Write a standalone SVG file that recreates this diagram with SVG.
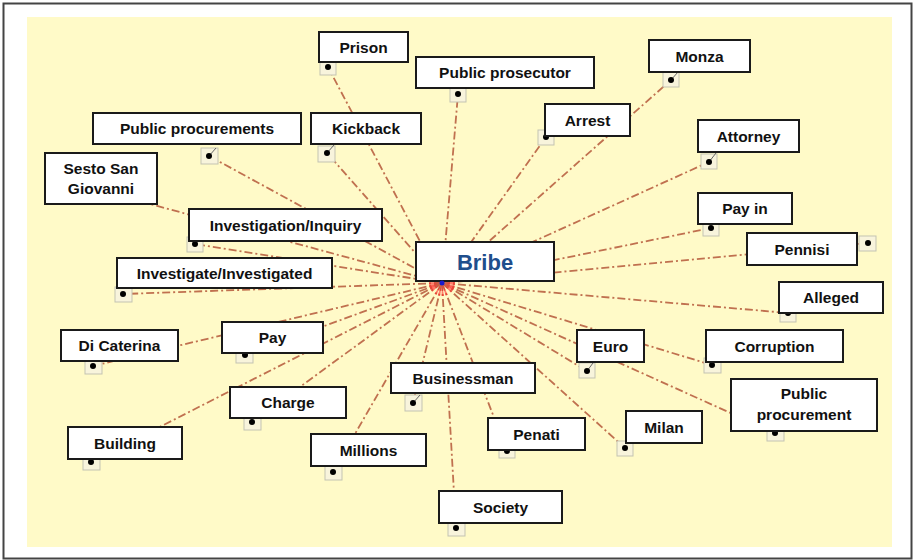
<svg xmlns="http://www.w3.org/2000/svg" width="915" height="560" viewBox="0 0 915 560">
<defs>
<style>
.box{fill:#fff;stroke:#1a1a1a;stroke-width:2}
.lbl{font-family:"Liberation Sans",Arial,sans-serif;font-weight:bold;font-size:15.5px;fill:#111;text-anchor:middle}
.hub{font-family:"Liberation Sans",Arial,sans-serif;font-weight:bold;font-size:22px;fill:#1f4e8c;text-anchor:middle}
.h{fill:#f8f4dc;stroke:#c4c3b2;stroke-width:1}
.d{fill:#000}
.t{stroke:#666;stroke-width:1}
.c{stroke:#c0704f;stroke-width:1.8;stroke-dasharray:8 3 2 3;fill:none;marker-start:url(#burst)}
</style>
<marker id="burst" markerUnits="userSpaceOnUse" markerWidth="16" markerHeight="8" refX="0" refY="4" orient="auto" viewBox="0 0 16 8">
<path d="M0,4 L13,2.8 L13,5.2 Z" fill="#ff2a2a" opacity="0.6"/>
</marker>
</defs>
<rect x="3.5" y="3.5" width="908" height="555" fill="#fff" stroke="#444" stroke-width="2"/>
<rect x="27" y="17" width="865" height="530" fill="#fffac8"/>
<g id="connectors">
<line class="c" x1="442" y1="283" x2="328" y2="67"/>
<line class="c" x1="442" y1="283" x2="458" y2="94"/>
<line class="c" x1="442" y1="283" x2="671" y2="80"/>
<line class="c" x1="442" y1="283" x2="546" y2="137"/>
<line class="c" x1="442" y1="283" x2="709" y2="162"/>
<line class="c" x1="442" y1="283" x2="711" y2="228"/>
<line class="c" x1="442" y1="283" x2="868" y2="243"/>
<line class="c" x1="442" y1="283" x2="788" y2="313"/>
<line class="c" x1="442" y1="283" x2="587" y2="371"/>
<line class="c" x1="442" y1="283" x2="712" y2="365"/>
<line class="c" x1="442" y1="283" x2="775" y2="433"/>
<line class="c" x1="442" y1="283" x2="625" y2="448"/>
<line class="c" x1="442" y1="283" x2="507" y2="451"/>
<line class="c" x1="442" y1="283" x2="456" y2="528"/>
<line class="c" x1="442" y1="283" x2="413" y2="403"/>
<line class="c" x1="442" y1="283" x2="333" y2="472"/>
<line class="c" x1="442" y1="283" x2="252" y2="422"/>
<line class="c" x1="442" y1="283" x2="91" y2="462"/>
<line class="c" x1="442" y1="283" x2="245" y2="355"/>
<line class="c" x1="442" y1="283" x2="93" y2="366"/>
<line class="c" x1="442" y1="283" x2="123" y2="294"/>
<line class="c" x1="442" y1="283" x2="195" y2="244"/>
<line class="c" x1="442" y1="283" x2="150" y2="204"/>
<line class="c" x1="442" y1="283" x2="209" y2="156"/>
<line class="c" x1="442" y1="283" x2="327" y2="153"/>
</g>
<g id="prison"><rect class="h" x="320" y="60" width="16" height="15"/><circle class="d" cx="328" cy="67" r="3"/><rect class="box" x="319" y="32" width="89" height="30"/><text class="lbl" x="363.5" y="52.5">Prison</text></g>
<g id="public-prosecutor"><rect class="h" x="450" y="87" width="16" height="15"/><circle class="d" cx="458" cy="94" r="3"/><rect class="box" x="416" y="57" width="178" height="31"/><text class="lbl" x="505" y="78">Public prosecutor</text></g>
<g id="monza"><rect class="h" x="663" y="72" width="16" height="15"/><line class="t" x1="671" y1="80" x2="678" y2="72"/><circle class="d" cx="671" cy="80" r="3"/><rect class="box" x="649" y="40" width="101" height="32"/><text class="lbl" x="699.5" y="61.5">Monza</text></g>
<g id="arrest"><rect class="h" x="538" y="130" width="16" height="15"/><circle class="d" cx="546" cy="137" r="3"/><rect class="box" x="545" y="104" width="85" height="32"/><text class="lbl" x="587.5" y="125.5">Arrest</text></g>
<g id="attorney"><rect class="h" x="701" y="154" width="16" height="15"/><line class="t" x1="709" y1="162" x2="716" y2="153"/><circle class="d" cx="709" cy="162" r="3"/><rect class="box" x="698" y="120" width="101" height="32"/><text class="lbl" x="748.5" y="141.5">Attorney</text></g>
<g id="pay-in"><rect class="h" x="703" y="221" width="16" height="15"/><circle class="d" cx="711" cy="228" r="3"/><rect class="box" x="698" y="193" width="94" height="31"/><text class="lbl" x="745" y="214">Pay in</text></g>
<g id="pennisi"><rect class="h" x="859" y="236" width="17" height="15"/><circle class="d" cx="868" cy="243" r="3"/><rect class="box" x="747" y="233" width="110" height="32"/><text class="lbl" x="802" y="254.5">Pennisi</text></g>
<g id="alleged"><rect class="h" x="780" y="308" width="16" height="14"/><circle class="d" cx="788" cy="313" r="3"/><rect class="box" x="779" y="282" width="104" height="31"/><text class="lbl" x="831" y="303">Alleged</text></g>
<g id="euro"><rect class="h" x="579" y="363" width="16" height="15"/><line class="t" x1="587" y1="371" x2="593" y2="363"/><circle class="d" cx="587" cy="371" r="3"/><rect class="box" x="577" y="330" width="67" height="32"/><text class="lbl" x="610.5" y="351.5">Euro</text></g>
<g id="corruption"><rect class="h" x="704" y="358" width="17" height="15"/><circle class="d" cx="712" cy="365" r="3"/><rect class="box" x="706" y="330" width="137" height="32"/><text class="lbl" x="774.5" y="351.5">Corruption</text></g>
<g id="public-procurement"><rect class="h" x="767" y="426" width="17" height="15"/><circle class="d" cx="775" cy="433" r="3"/><rect class="box" x="731" y="379" width="146" height="52"/><text class="lbl" x="804" y="399">Public</text><text class="lbl" x="804" y="420">procurement</text></g>
<g id="milan"><rect class="h" x="617" y="441" width="16" height="15"/><circle class="d" cx="625" cy="448" r="3"/><rect class="box" x="626" y="411" width="76" height="32"/><text class="lbl" x="664" y="432.5">Milan</text></g>
<g id="penati"><rect class="h" x="499" y="444" width="16" height="14"/><circle class="d" cx="507" cy="451" r="3"/><rect class="box" x="488" y="418" width="97" height="32"/><text class="lbl" x="536.5" y="439.5">Penati</text></g>
<g id="society"><rect class="h" x="448" y="521" width="17" height="15"/><circle class="d" cx="456" cy="528" r="3"/><rect class="box" x="439" y="491" width="123" height="32"/><text class="lbl" x="500.5" y="512.5">Society</text></g>
<g id="businessman"><rect class="h" x="405" y="395" width="17" height="16"/><line class="t" x1="413" y1="403" x2="420" y2="395"/><circle class="d" cx="413" cy="403" r="3"/><rect class="box" x="391" y="363" width="144" height="30"/><text class="lbl" x="463" y="383.5">Businessman</text></g>
<g id="millions"><rect class="h" x="325" y="465" width="17" height="15"/><circle class="d" cx="333" cy="472" r="3"/><rect class="box" x="311" y="434" width="115" height="32"/><text class="lbl" x="368.5" y="455.5">Millions</text></g>
<g id="charge"><rect class="h" x="244" y="415" width="17" height="15"/><circle class="d" cx="252" cy="422" r="3"/><rect class="box" x="230" y="387" width="116" height="31"/><text class="lbl" x="288" y="408">Charge</text></g>
<g id="building"><rect class="h" x="83" y="456" width="17" height="14"/><circle class="d" cx="91" cy="462" r="3"/><rect class="box" x="68" y="427" width="114" height="32"/><text class="lbl" x="125" y="448.5">Building</text></g>
<g id="pay"><rect class="h" x="236" y="349" width="17" height="14"/><circle class="d" cx="245" cy="355" r="3"/><rect class="box" x="222" y="322" width="101" height="31"/><text class="lbl" x="272.5" y="343">Pay</text></g>
<g id="di-caterina"><rect class="h" x="85" y="359" width="17" height="15"/><circle class="d" cx="93" cy="366" r="3"/><rect class="box" x="61" y="330" width="117" height="31"/><text class="lbl" x="119.5" y="351">Di Caterina</text></g>
<g id="investigate-investigated"><rect class="h" x="115" y="287" width="17" height="15"/><circle class="d" cx="123" cy="294" r="3"/><rect class="box" x="117" y="258" width="215" height="30"/><text class="lbl" x="224.5" y="278.5">Investigate/Investigated</text></g>
<g id="investigation-inquiry"><rect class="h" x="187" y="237" width="16" height="15"/><circle class="d" cx="195" cy="244" r="3"/><rect class="box" x="189" y="209" width="193" height="32"/><text class="lbl" x="285.5" y="230.5">Investigation/Inquiry</text></g>
<g id="sesto-san-giovanni"><rect class="box" x="45" y="153" width="112" height="51"/><text class="lbl" x="101" y="174">Sesto San</text><text class="lbl" x="101" y="194">Giovanni</text></g>
<g id="public-procurements"><rect class="h" x="201" y="148" width="17" height="16"/><line class="t" x1="209" y1="156" x2="216" y2="148"/><circle class="d" cx="209" cy="156" r="3"/><rect class="box" x="93" y="113" width="208" height="31"/><text class="lbl" x="197" y="134">Public procurements</text></g>
<g id="kickback"><rect class="h" x="318" y="146" width="17" height="16"/><line class="t" x1="327" y1="153" x2="334" y2="145"/><circle class="d" cx="327" cy="153" r="3"/><rect class="box" x="311" y="113" width="110" height="31"/><text class="lbl" x="366" y="134">Kickback</text></g>
<g id="bribe"><rect class="box" x="416" y="242" width="138" height="39"/><text class="hub" x="485" y="269.5">Bribe</text><circle cx="442" cy="283" r="2.5" fill="#1a1acc"/></g>
</svg>
